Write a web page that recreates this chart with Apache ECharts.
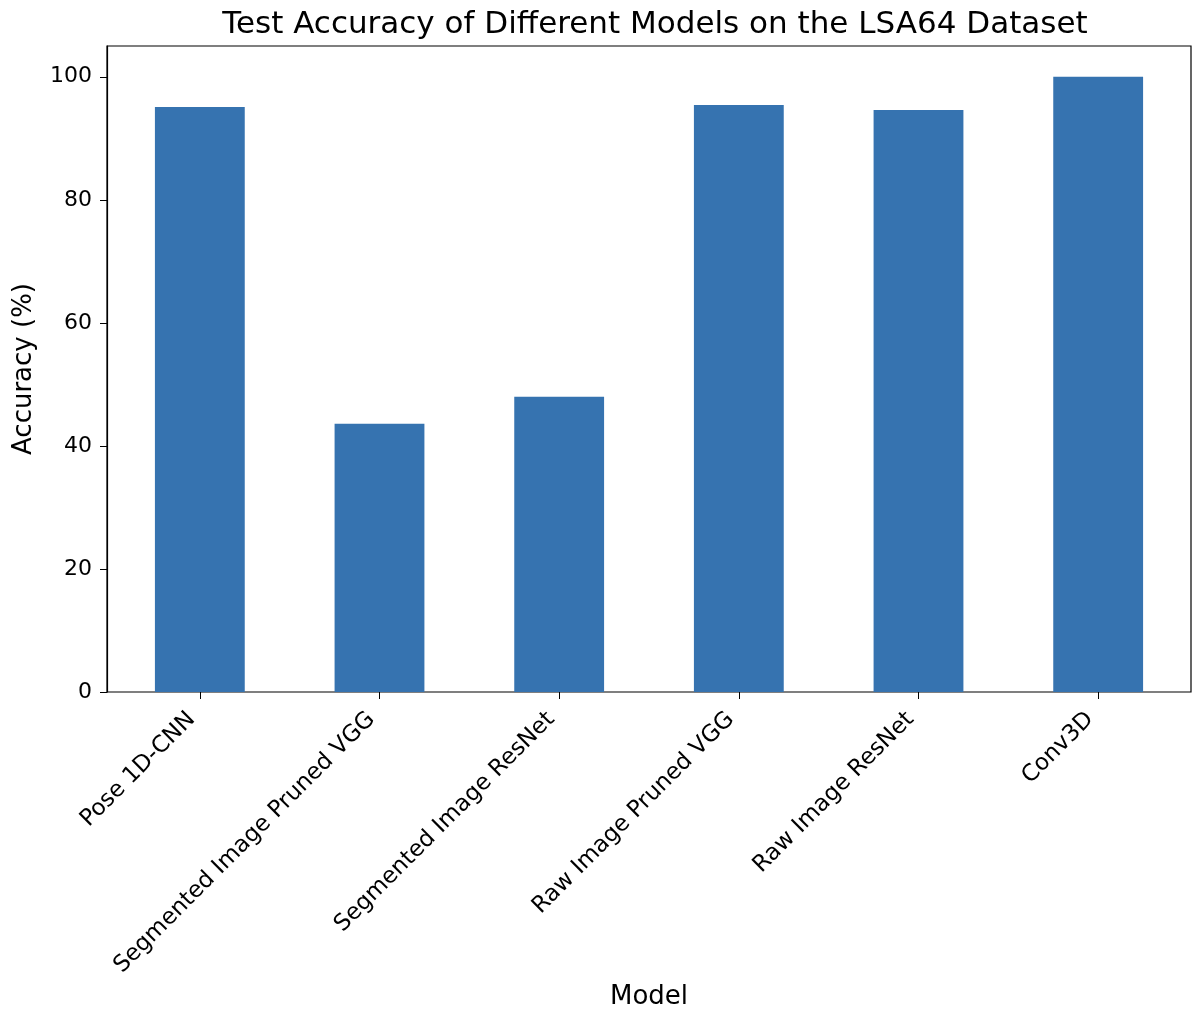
<!DOCTYPE html>
<html>
<head>
<meta charset="utf-8">
<script src="https://cdn.jsdelivr.net/npm/echarts@6/dist/echarts.min.js"></script>
<style>
  html, body { margin: 0; padding: 0; background: #ffffff; }
  #chart { width: 1195px; height: 1011px; }
</style>
</head>
<body>
<div id="chart"></div>
<script>
// Model names along the x axis
const models = [
  'Pose 1D-CNN',
  'Segmented Image Pruned VGG',
  'Segmented Image ResNet',
  'Raw Image Pruned VGG',
  'Raw Image ResNet',
  'Conv3D'
];
// Test accuracy (%) for each model
const accuracy = [95.1, 43.6, 48.0, 95.4, 94.6, 100.0];
// Y axis tick values
const yTicks = [0, 20, 40, 60, 80, 100];
const yMax = 105;

const font = 'DejaVu Sans, Liberation Sans, sans-serif';
const chart = echarts.init(document.getElementById('chart'), null, { renderer: 'canvas' });

chart.setOption({
  animation: false,
  backgroundColor: '#ffffff',
  title: {
    text: 'Test Accuracy of Different Models on the LSA64 Dataset',
    left: 650,
    textAlign: 'center',
    top: 4,
    textStyle: { fontFamily: font, fontSize: 31, fontWeight: 'normal', color: '#000' }
  },
  grid: [
    // outer frame with the value axis
    {
      left: 107, right: 4, top: 46, bottom: 319,
      outerBoundsMode: 'none', containLabel: false,
      show: true, borderColor: '#000', borderWidth: 1.2, backgroundColor: 'transparent'
    },
    // category band for the bars, with a small inset on each side
    {
      left: 110, right: 7, top: 46, bottom: 319,
      outerBoundsMode: 'none', containLabel: false,
      show: false
    }
  ],
  xAxis: [
    { type: 'category', gridIndex: 0, data: models, show: false },
    {
      type: 'category',
      gridIndex: 1,
      data: models,
      name: 'Model',
      nameLocation: 'middle',
      nameGap: 291,
      nameTextStyle: { fontFamily: font, fontSize: 26, color: '#000' },
      axisLine: { show: false },
      axisTick: { show: true, alignWithLabel: true, length: 7, lineStyle: { color: '#000' } },
      axisLabel: {
        rotate: 45, margin: 32, interval: 0,
        verticalAlign: 'bottom',
        fontFamily: font, fontSize: 23, color: '#000'
      },
      splitLine: { show: false }
    }
  ],
  yAxis: [
    {
      type: 'value',
      gridIndex: 0,
      min: 0, max: yMax,
      interval: 20,
      name: 'Accuracy (%)',
      nameLocation: 'middle',
      nameGap: 70,
      nameRotate: 90,
      nameTextStyle: { fontFamily: font, fontSize: 26, color: '#000' },
      axisLine: { show: true, lineStyle: { color: '#000', width: 1.2 } },
      axisTick: { show: true, length: 7, customValues: yTicks, lineStyle: { color: '#000' } },
      axisLabel: {
        margin: 15, fontFamily: font, fontSize: 22, color: '#000',
        customValues: yTicks
      },
      splitLine: { show: false }
    },
    { type: 'value', gridIndex: 1, min: 0, max: yMax, show: false, splitLine: { show: false } }
  ],
  series: [{
    type: 'bar',
    xAxisIndex: 1,
    yAxisIndex: 1,
    data: accuracy,
    barWidth: '50%',
    itemStyle: { color: '#3673b0' }
  }]
});
</script>
</body>
</html>
